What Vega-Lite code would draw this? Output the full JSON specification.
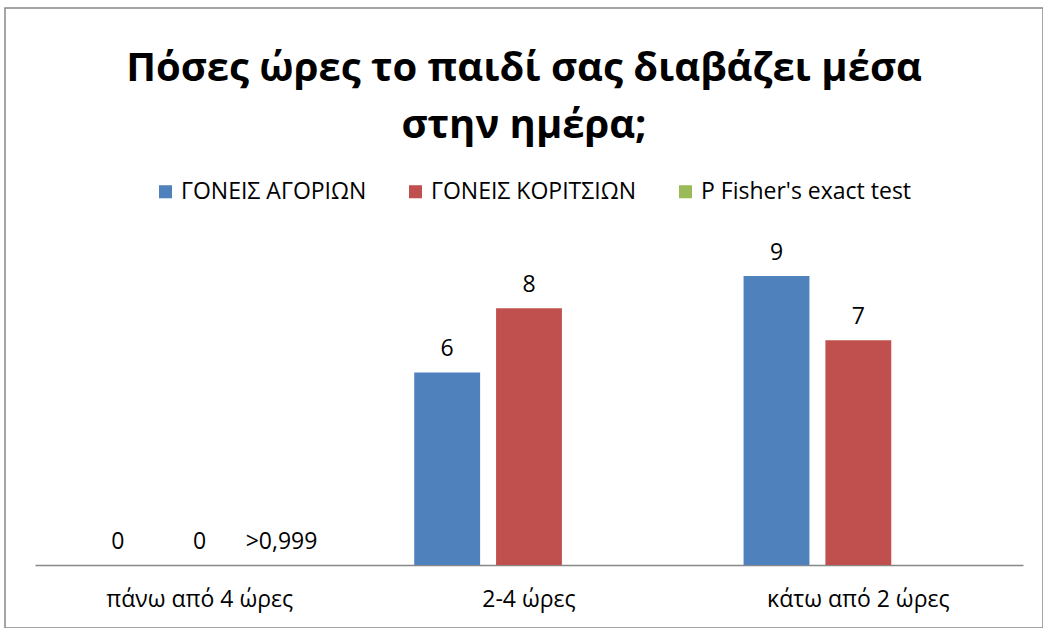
{
  "$schema": "https://vega.github.io/schema/vega-lite/v6.json",
  "width": 1038,
  "height": 620,
  "autosize": {"type": "none"},
  "padding": {"left": 5, "top": 8, "right": 0, "bottom": 0},
  "background": "white",
  "config": {
    "view": {"stroke": "#888888", "strokeWidth": 1.5},
    "font": "Open Sans",
    "text": {"color": "black"}
  },
  "title": {
    "text": ["Πόσες ώρες το παιδί σας διαβάζει μέσα", "στην ημέρα;"],
    "font": "Open Sans",
    "fontSize": 40,
    "fontWeight": "bold",
    "color": "black",
    "anchor": "middle",
    "baseline": "alphabetic",
    "lineHeight": 57,
    "offset": -170
  },
  "data": {
    "values": [
      {"category": "πάνω από 4 ώρες", "series": "ΓΟΝΕΙΣ ΑΓΟΡΙΩΝ", "value": 0, "label": "0"},
      {"category": "πάνω από 4 ώρες", "series": "ΓΟΝΕΙΣ ΚΟΡΙΤΣΙΩΝ", "value": 0, "label": "0"},
      {"category": "πάνω από 4 ώρες", "series": "P Fisher's exact test", "value": 0, "label": ">0,999"},
      {"category": "2-4 ώρες", "series": "ΓΟΝΕΙΣ ΑΓΟΡΙΩΝ", "value": 6, "label": "6"},
      {"category": "2-4 ώρες", "series": "ΓΟΝΕΙΣ ΚΟΡΙΤΣΙΩΝ", "value": 8, "label": "8"},
      {"category": "2-4 ώρες", "series": "P Fisher's exact test", "value": null, "label": ""},
      {"category": "κάτω από 2 ώρες", "series": "ΓΟΝΕΙΣ ΑΓΟΡΙΩΝ", "value": 9, "label": "9"},
      {"category": "κάτω από 2 ώρες", "series": "ΓΟΝΕΙΣ ΚΟΡΙΤΣΙΩΝ", "value": 7, "label": "7"},
      {"category": "κάτω από 2 ώρες", "series": "P Fisher's exact test", "value": null, "label": ""}
    ]
  },
  "encoding": {
    "x": {
      "field": "category",
      "type": "nominal",
      "sort": ["πάνω από 4 ώρες", "2-4 ώρες", "κάτω από 2 ώρες"],
      "scale": {"range": [30, 1018], "paddingInner": 0, "paddingOuter": 0},
      "axis": {
        "title": null,
        "offset": -63,
        "domainColor": "#888888",
        "domainWidth": 1.5,
        "ticks": false,
        "tickSize": 0,
        "labelPadding": 23,
        "labelFontSize": 23,
        "labelFont": "Open Sans",
        "labelColor": "black",
        "labelAngle": 0,
        "labelLimit": 400,
        "grid": false
      }
    },
    "xOffset": {
      "field": "series",
      "type": "nominal",
      "sort": ["ΓΟΝΕΙΣ ΑΓΟΡΙΩΝ", "ΓΟΝΕΙΣ ΚΟΡΙΤΣΙΩΝ", "P Fisher's exact test"],
      "scale": {"paddingInner": 0.195, "paddingOuter": 0.61}
    },
    "y": {
      "field": "value",
      "type": "quantitative",
      "scale": {"domain": [0, 10], "range": [557, 236]},
      "axis": null
    }
  },
  "layer": [
    {
      "mark": {"type": "bar"},
      "encoding": {
        "color": {
          "field": "series",
          "type": "nominal",
          "sort": ["ΓΟΝΕΙΣ ΑΓΟΡΙΩΝ", "ΓΟΝΕΙΣ ΚΟΡΙΤΣΙΩΝ", "P Fisher's exact test"],
          "scale": {
            "domain": ["ΓΟΝΕΙΣ ΑΓΟΡΙΩΝ", "ΓΟΝΕΙΣ ΚΟΡΙΤΣΙΩΝ", "P Fisher's exact test"],
            "range": ["#4F81BD", "#C0504D", "#9BBB59"]
          },
          "legend": {
            "title": null,
            "orient": "none",
            "legendX": 149,
            "legendY": 172,
            "direction": "horizontal",
            "symbolType": "square",
            "symbolSize": 170,
            "symbolStrokeWidth": 0,
            "labelFontSize": 23,
            "labelFont": "Open Sans",
            "labelColor": "black",
            "labelOffset": 4,
            "labelLimit": 400,
            "columnPadding": 37,
            "padding": 0
          }
        }
      }
    },
    {
      "mark": {"type": "text", "dy": -16, "baseline": "alphabetic", "fontSize": 23, "font": "Open Sans", "color": "black"},
      "encoding": {"text": {"field": "label"}}
    }
  ]
}
